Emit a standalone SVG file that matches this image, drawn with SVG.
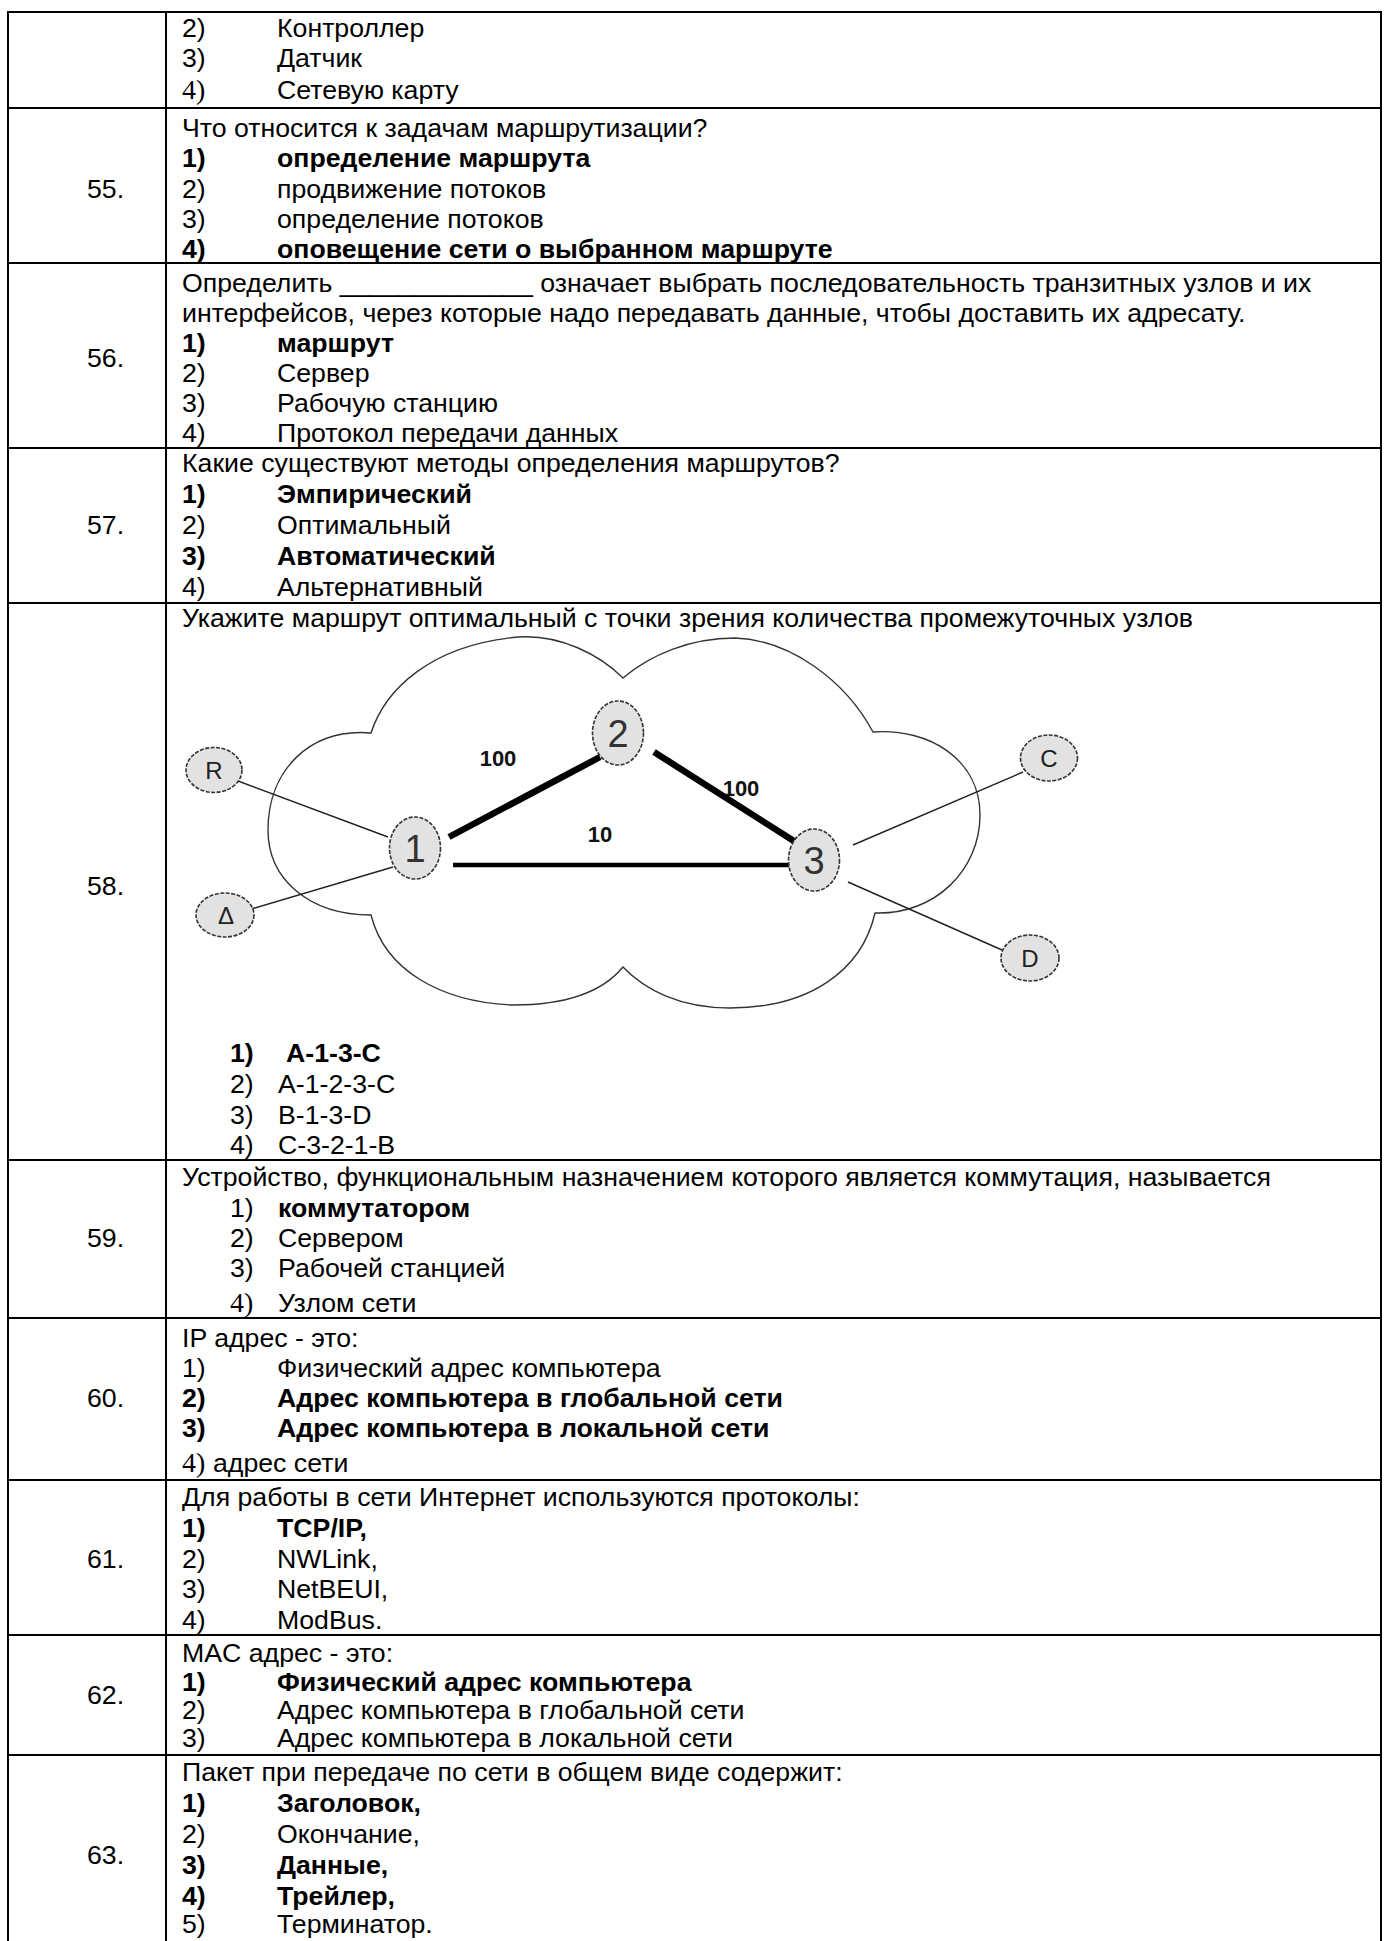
<svg xmlns="http://www.w3.org/2000/svg" width="1390" height="1941" viewBox="0 0 1390 1941">
<style>
text { font-family: "Liberation Sans", Arial, sans-serif; font-size: 26.7px; fill: #000; }
.b { font-weight: bold; }
.s { font-family: "Liberation Serif", "Times New Roman", serif; font-size: 28px; }
.grid line { stroke: #000; stroke-width: 2; }
.cloud { fill: none; stroke: #333; stroke-width: 1.4; }
.nd ellipse { fill: #e2e2e2; stroke: #333; stroke-width: 1.6; stroke-dasharray: 4 1.5; }
.nd text { font-size: 38px; fill: #333; text-anchor: middle; }
.nd text.l { font-size: 24px; fill: #222; }
.thin { stroke: #222; stroke-width: 1.4; }
.thick { stroke: #000; stroke-width: 6.5; }
.mid { stroke: #000; stroke-width: 4.5; }
.w { font-size: 22px; font-weight: bold; fill: #111; text-anchor: middle; }
</style>
<rect width="1390" height="1941" fill="#fff"/>
<g class="grid" id="table">
<line x1="8" y1="12" x2="1381" y2="12"/>
<line x1="8" y1="108" x2="1381" y2="108"/>
<line x1="8" y1="263" x2="1381" y2="263"/>
<line x1="8" y1="448" x2="1381" y2="448"/>
<line x1="8" y1="603" x2="1381" y2="603"/>
<line x1="8" y1="1160" x2="1381" y2="1160"/>
<line x1="8" y1="1318" x2="1381" y2="1318"/>
<line x1="8" y1="1480" x2="1381" y2="1480"/>
<line x1="8" y1="1635" x2="1381" y2="1635"/>
<line x1="8" y1="1755" x2="1381" y2="1755"/>
<line x1="8" y1="11" x2="8" y2="1941"/>
<line x1="166" y1="11" x2="166" y2="1941"/>
<line x1="1381" y1="11" x2="1381" y2="1941"/>
</g>
<g id="row-54">
<text x="182" y="37">2)</text><text x="277" y="37">Контроллер</text>
<text x="182" y="67">3)</text><text x="277" y="67">Датчик</text>
<text x="182" y="99" class="s">4)</text><text x="277" y="99">Сетевую карту</text>
</g>
<g id="row-55">
<text x="87" y="198">55.</text>
<text x="182" y="137">Что относится к задачам маршрутизации?</text>
<text x="182" y="167" class="b">1)</text><text x="277" y="167" class="b">определение маршрута</text>
<text x="182" y="198">2)</text><text x="277" y="198">продвижение потоков</text>
<text x="182" y="228">3)</text><text x="277" y="228">определение потоков</text>
<text x="182" y="258" class="b">4)</text><text x="277" y="258" class="b">оповещение сети о выбранном маршруте</text>
</g>
<g id="row-56">
<text x="87" y="367">56.</text>
<text x="182" y="292">Определить _____________ означает выбрать последовательность транзитных узлов и их</text>
<text x="182" y="322">интерфейсов, через которые надо передавать данные, чтобы доставить их адресату.</text>
<text x="182" y="352" class="b">1)</text><text x="277" y="352" class="b">маршрут</text>
<text x="182" y="382">2)</text><text x="277" y="382">Сервер</text>
<text x="182" y="412">3)</text><text x="277" y="412">Рабочую станцию</text>
<text x="182" y="442">4)</text><text x="277" y="442">Протокол передачи данных</text>
</g>
<g id="row-57">
<text x="87" y="534">57.</text>
<text x="182" y="472">Какие существуют методы определения маршрутов?</text>
<text x="182" y="503" class="b">1)</text><text x="277" y="503" class="b">Эмпирический</text>
<text x="182" y="534">2)</text><text x="277" y="534">Оптимальный</text>
<text x="182" y="565" class="b">3)</text><text x="277" y="565" class="b">Автоматический</text>
<text x="182" y="596">4)</text><text x="277" y="596">Альтернативный</text>
</g>
<g id="row-58">
<text x="87" y="895">58.</text>
<text x="182" y="627">Укажите маршрут оптимальный с точки зрения количества промежуточных узлов</text>
<text x="230" y="1062" class="b">1)</text><text x="286" y="1062" class="b">A-1-3-C</text>
<text x="230" y="1093">2)</text><text x="278" y="1093">A-1-2-3-C</text>
<text x="230" y="1124">3)</text><text x="278" y="1124">B-1-3-D</text>
<text x="230" y="1154">4)</text><text x="278" y="1154">C-3-2-1-B</text>
</g>
<g id="cloud">
<path class="cloud" d="M371,733 C385,690 430,645 518,637 C560,634 600,655 623,678 C650,655 690,638 735,638 C790,640 845,680 873,732 C930,728 980,760 980,815 C980,870 935,915 875,913 C862,970 810,1008 730,1008 C680,1008 645,990 623,967 C600,995 560,1005 513,1005 C440,1002 385,970 371,915 C310,915 268,880 268,830 C268,770 310,728 371,733 Z"/>
</g>
<g id="connectors">
<line class="thin" x1="230" y1="778" x2="388" y2="837"/>
<line class="thin" x1="241" y1="912" x2="393" y2="867"/>
<line class="thick" x1="449" y1="837" x2="600" y2="757"/>
<line class="thick" x1="654" y1="752" x2="797" y2="843"/>
<line class="mid" x1="453" y1="865" x2="789" y2="865"/>
<line class="thin" x1="853" y1="845" x2="1023" y2="772"/>
<line class="thin" x1="848" y1="882" x2="1002" y2="950"/>
<text class="w" x="498" y="766">100</text>
<text class="w" x="741" y="796">100</text>
<text class="w" x="600" y="842">10</text>
</g>
<g id="node-R" class="nd"><ellipse cx="214" cy="770" rx="28" ry="22.5"/><text class="l" x="214" y="779">R</text></g>
<g id="node-A" class="nd"><ellipse cx="225" cy="915" rx="29" ry="22"/><text class="l" x="226" y="924">Δ</text></g>
<g id="node-1" class="nd"><ellipse cx="415" cy="848" rx="25.5" ry="31"/><text x="415" y="862">1</text></g>
<g id="node-2" class="nd"><ellipse cx="618" cy="733" rx="25.5" ry="32"/><text x="618" y="747">2</text></g>
<g id="node-3" class="nd"><ellipse cx="814" cy="860" rx="25.5" ry="31"/><text x="814" y="874">3</text></g>
<g id="node-C" class="nd"><ellipse cx="1049" cy="758" rx="28.5" ry="23"/><text class="l" x="1049" y="767">C</text></g>
<g id="node-D" class="nd"><ellipse cx="1030" cy="958" rx="29" ry="23"/><text class="l" x="1030" y="967">D</text></g>
<g id="row-59">
<text x="87" y="1247">59.</text>
<text x="182" y="1186">Устройство, функциональным назначением которого является коммутация, называется</text>
<text x="230" y="1217">1)</text><text x="278" y="1217" class="b">коммутатором</text>
<text x="230" y="1247">2)</text><text x="278" y="1247">Сервером</text>
<text x="230" y="1277">3)</text><text x="278" y="1277">Рабочей станцией</text>
<text x="230" y="1312" class="s">4)</text><text x="278" y="1312">Узлом сети</text>
</g>
<g id="row-60">
<text x="87" y="1407">60.</text>
<text x="182" y="1347">IP адрес - это:</text>
<text x="182" y="1377">1)</text><text x="277" y="1377">Физический адрес компьютера</text>
<text x="182" y="1407" class="b">2)</text><text x="277" y="1407" class="b">Адрес компьютера в глобальной сети</text>
<text x="182" y="1437" class="b">3)</text><text x="277" y="1437" class="b">Адрес компьютера в локальной сети</text>
<text x="182" y="1472" class="s">4)</text><text x="213" y="1472">адрес сети</text>
</g>
<g id="row-61">
<text x="87" y="1568">61.</text>
<text x="182" y="1506">Для работы в сети Интернет используются протоколы:</text>
<text x="182" y="1537" class="b">1)</text><text x="277" y="1537" class="b">TCP/IP,</text>
<text x="182" y="1568">2)</text><text x="277" y="1568">NWLink,</text>
<text x="182" y="1598">3)</text><text x="277" y="1598">NetBEUI,</text>
<text x="182" y="1629">4)</text><text x="277" y="1629">ModBus.</text>
</g>
<g id="row-62">
<text x="87" y="1704">62.</text>
<text x="182" y="1662">MAC адрес - это:</text>
<text x="182" y="1691" class="b">1)</text><text x="277" y="1691" class="b">Физический адрес компьютера</text>
<text x="182" y="1719">2)</text><text x="277" y="1719">Адрес компьютера в глобальной сети</text>
<text x="182" y="1747">3)</text><text x="277" y="1747">Адрес компьютера в локальной сети</text>
</g>
<g id="row-63">
<text x="87" y="1864">63.</text>
<text x="182" y="1781">Пакет при передаче по сети в общем виде содержит:</text>
<text x="182" y="1812" class="b">1)</text><text x="277" y="1812" class="b">Заголовок,</text>
<text x="182" y="1843">2)</text><text x="277" y="1843">Окончание,</text>
<text x="182" y="1874" class="b">3)</text><text x="277" y="1874" class="b">Данные,</text>
<text x="182" y="1905" class="b">4)</text><text x="277" y="1905" class="b">Трейлер,</text>
<text x="182" y="1933">5)</text><text x="277" y="1933">Терминатор.</text>
</g>
</svg>
